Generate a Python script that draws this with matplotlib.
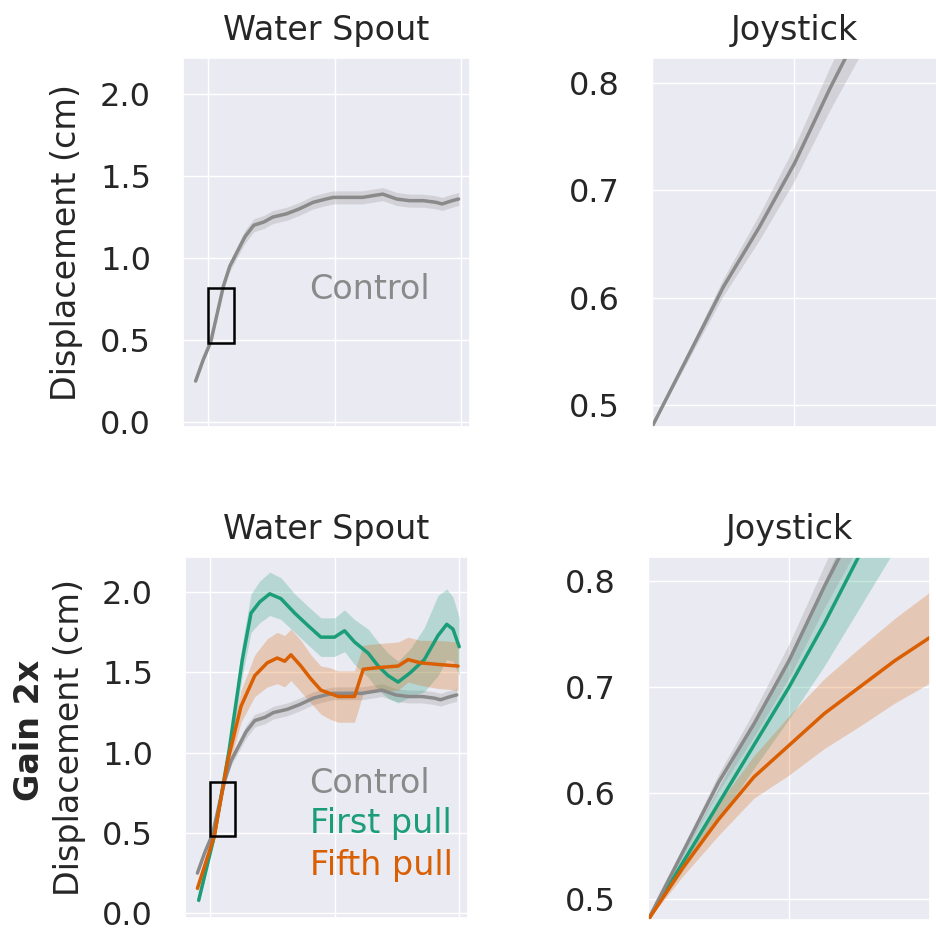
import numpy as np
import matplotlib
matplotlib.use("Agg")
import matplotlib.pyplot as plt
from matplotlib.patches import Rectangle
import seaborn as sns

# ---- water spout traces (time, mean, half-width of band) ----
ctrl_t = [-0.10, -0.04, 0.02, 0.07, 0.12, 0.17, 0.23, 0.29, 0.36, 0.44, 0.51, 0.62, 0.72,
          0.83, 0.93, 0.99, 1.09, 1.22, 1.38, 1.49, 1.59, 1.70, 1.80, 1.85, 1.93, 1.98]
ctrl_y = [0.25, 0.38, 0.49, 0.66, 0.83, 0.95, 1.04, 1.13, 1.20, 1.22, 1.25, 1.27, 1.30,
          1.34, 1.36, 1.37, 1.37, 1.37, 1.39, 1.36, 1.35, 1.35, 1.34, 1.33, 1.35, 1.36]
ctrl_e = [0.01, 0.01, 0.01, 0.015, 0.02, 0.03, 0.035, 0.04, 0.04, 0.04, 0.04, 0.04, 0.04,
          0.04, 0.04, 0.04, 0.04, 0.04, 0.04, 0.04, 0.04, 0.04, 0.04, 0.04, 0.04, 0.04]

first_t = [-0.09, 0.035, 0.155, 0.26, 0.33, 0.40, 0.48, 0.57, 0.68, 0.79, 0.89, 1.00,
           1.08, 1.16, 1.27, 1.35, 1.43, 1.51, 1.61, 1.72, 1.83, 1.90, 1.95, 2.00]
first_y = [0.08, 0.48, 1.02, 1.58, 1.87, 1.94, 1.99, 1.96, 1.87, 1.79, 1.72, 1.72,
           1.76, 1.69, 1.62, 1.54, 1.48, 1.44, 1.50, 1.58, 1.73, 1.80, 1.77, 1.66]
first_e = [0.02, 0.03, 0.06, 0.10, 0.12, 0.13, 0.135, 0.13, 0.12, 0.12, 0.12, 0.12,
           0.13, 0.14, 0.15, 0.15, 0.14, 0.13, 0.15, 0.20, 0.25, 0.22, 0.20, 0.18]

fifth_t = [-0.10, 0.035, 0.14, 0.25, 0.36, 0.46, 0.54, 0.60, 0.65, 0.73, 0.81, 0.89,
           0.96, 1.03, 1.16, 1.23, 1.35, 1.51, 1.59, 1.69, 1.83, 1.99]
fifth_y = [0.155, 0.48, 0.94, 1.29, 1.48, 1.56, 1.59, 1.57, 1.61, 1.54, 1.46, 1.39,
           1.37, 1.35, 1.35, 1.52, 1.53, 1.54, 1.58, 1.56, 1.55, 1.54]
fifth_e = [0.02, 0.03, 0.06, 0.10, 0.13, 0.15, 0.16, 0.16, 0.16, 0.16, 0.15, 0.15,
           0.16, 0.16, 0.16, 0.15, 0.15, 0.15, 0.14, 0.14, 0.15, 0.15]

# ---- joystick (zoom of first 0.2 s) ----
joy_t = [0.0, 0.025, 0.05, 0.075, 0.1, 0.125, 0.15, 0.175, 0.2]
joy_ctrl = [0.48, 0.545, 0.61, 0.665, 0.725, 0.795, 0.86, 0.92, 0.98]
joy_ctrl_e = [0.0, 0.004, 0.008, 0.012, 0.016, 0.02, 0.025, 0.03, 0.035]
joy_first = [0.48, 0.535, 0.59, 0.645, 0.70, 0.76, 0.825, 0.89, 0.955]
joy_first_e = [0.0, 0.008, 0.015, 0.022, 0.03, 0.04, 0.05, 0.06, 0.07]
joy_fifth = [0.48, 0.53, 0.575, 0.615, 0.645, 0.675, 0.70, 0.725, 0.747]
joy_fifth_e = [0.0, 0.008, 0.015, 0.02, 0.028, 0.033, 0.037, 0.04, 0.043]

GRAY = "#8a8a8a"
GREEN = "#1b9e77"
ORANGE = "#d95f02"
FS = 24
TICK_FS = 23

sns.set_theme(style="darkgrid")
plt.rcParams['font.family'] = ['DejaVu Sans']

fig = plt.figure(figsize=(9.37, 9.31), dpi=100)
ax_tl = fig.add_axes([0.1953, 0.5414, 0.3063, 0.3963])
ax_tr = fig.add_axes([0.6958, 0.5414, 0.3042, 0.3963])
ax_bl = fig.add_axes([0.1974, 0.0140, 0.3020, 0.3878])
ax_br = fig.add_axes([0.6916, 0.0118, 0.3010, 0.3900])


def band(ax, t, y, e, color, lw=2.5):
    t = np.asarray(t)
    y = np.asarray(y)
    e = np.asarray(e)
    ax.fill_between(t, y - e, y + e, color=color, alpha=0.25, lw=0)
    ax.plot(t, y, color=color, lw=lw)


def spout(ax):
    ax.set_xlim(-0.2, 2.07)
    ax.set_ylim(-0.03, 2.22)
    ax.set_xticks([0, 1, 2])
    ax.set_xticklabels([])
    ax.set_yticks([0, 0.5, 1.0, 1.5, 2.0])
    ax.tick_params(axis='y', labelsize=TICK_FS, pad=17, labelcolor="#262626")
    ax.set_title("Water Spout", fontsize=FS, pad=13, color="#262626")
    ax.set_ylabel("Displacement (cm)", fontsize=FS, color="#262626")
    ax.yaxis.set_label_coords(-0.35, 0.5)
    ax.add_patch(Rectangle((0, 0.48), 0.2, 0.34, fill=False, ec="black", lw=1.8, zorder=5))


def joystick(ax):
    ax.set_xlim(0, 0.2)
    ax.set_ylim(0.48, 0.823)
    ax.set_xticks([0, 0.1, 0.2])
    ax.set_xticklabels([])
    ax.set_yticks([0.5, 0.6, 0.7, 0.8])
    ax.tick_params(axis='y', labelsize=TICK_FS, pad=17, labelcolor="#262626")
    ax.set_title("Joystick", fontsize=FS, pad=13, color="#262626")


# top row: control only
band(ax_tl, ctrl_t, ctrl_y, ctrl_e, GRAY)
spout(ax_tl)
ax_tl.text(0.80, 0.81, "Control", color=GRAY, fontsize=FS, va="center")

band(ax_tr, joy_t, joy_ctrl, joy_ctrl_e, GRAY)
joystick(ax_tr)

# bottom row: gain 2x
band(ax_bl, ctrl_t, ctrl_y, ctrl_e, GRAY)
band(ax_bl, first_t, first_y, first_e, GREEN)
band(ax_bl, fifth_t, fifth_y, fifth_e, ORANGE)
spout(ax_bl)
ax_bl.text(0.80, 0.81, "Control", color=GRAY, fontsize=FS, va="center")
ax_bl.text(0.80, 0.56, "First pull", color=GREEN, fontsize=FS, va="center")
ax_bl.text(0.80, 0.30, "Fifth pull", color=ORANGE, fontsize=FS, va="center")

band(ax_br, joy_t, joy_first, joy_first_e, GREEN)
band(ax_br, joy_t, joy_ctrl, joy_ctrl_e, GRAY)
band(ax_br, joy_t, joy_fifth, joy_fifth_e, ORANGE)
joystick(ax_br)

fig.text(30 / 937, 1 - 730 / 931, "Gain 2x", rotation=90, fontsize=FS, fontweight="bold",
         ha="center", va="center")

fig.savefig("out.png", dpi=100)
